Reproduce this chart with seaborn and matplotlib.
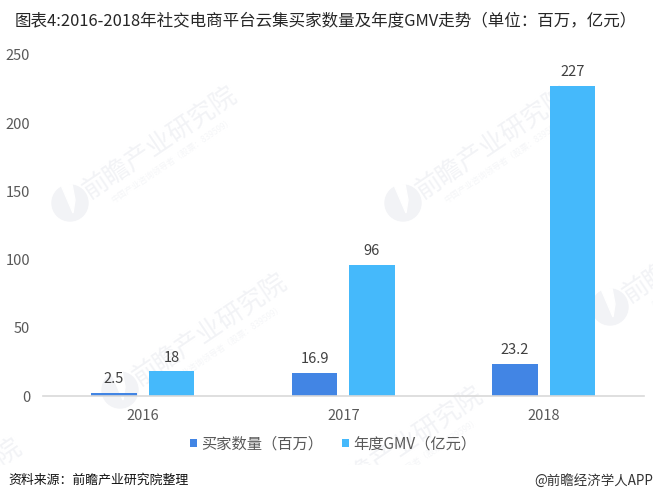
import matplotlib
matplotlib.use("Agg")
import matplotlib.pyplot as plt
from matplotlib.patches import Circle, Polygon, Rectangle
import seaborn as sns
import pandas as pd

sns.set_style("white")
plt.rcParams["font.family"] = ["Noto Sans CJK SC", "DejaVu Sans"]

years = ["2016", "2017", "2018"]
buyers = [2.5, 16.9, 23.2]
gmv = [18, 96, 227]
buyers_name = "买家数量（百万）"
gmv_name = "年度GMV（亿元）"
y_ticks = [0, 50, 100, 150, 200, 250]
title = "图表4:2016-2018年社交电商平台云集买家数量及年度GMV走势（单位：百万，亿元）"
source = "资料来源：前瞻产业研究院整理"
brand = "@前瞻经济学人APP"
watermark = "前瞻产业研究院"
watermark_sub = "中国产业咨询领导者（股票：839599）"

df = pd.DataFrame({"year": years * 2,
                   "value": buyers + gmv,
                   "series": [buyers_name] * 3 + [gmv_name] * 3})

W, H = 653, 501
fig = plt.figure(figsize=(W / 100, H / 100), dpi=100)
ax = fig.add_axes([42.5 / W, 1 - 396 / H, 601.5 / W, 341 / H])
ax.set_zorder(2)
ax.patch.set_alpha(0)

# watermark: logo + two lines of text, repeated behind the chart
wm_color = "#f2f3f6"
px = fig.dpi_scale_trans
for x, y in [(160, 143), (493, 143), (210, 330), (406, 443), (700, 247), (-55, 495)]:
    fig.text(x / W, 1 - y / H, watermark, rotation=34, fontsize=18.5, color=wm_color,
             ha="center", va="center", rotation_mode="anchor", zorder=0)
    fig.text((x + 12) / W, 1 - (y + 17) / H, watermark_sub, rotation=34, fontsize=6, color="#f5f6f8",
             ha="center", va="center", rotation_mode="anchor", zorder=0)
    cx, cy = (x - 90) / 100, (H - y - 60) / 100
    fig.add_artist(Circle((cx, cy), 0.18, transform=px, color=wm_color, zorder=0))
    fig.add_artist(Polygon([(cx - 0.09, cy + 0.18), (cx + 0.03, cy - 0.1), (cx + 0.05, cy + 0.03), (cx + 0.02, cy + 0.19)],
                           transform=px, color="white", zorder=0))

# footer is plain white, the watermark stops above it
fig.add_artist(Rectangle((0, 0), 1, 1 - 465 / H, transform=fig.transFigure, color="white", zorder=1))

sns.barplot(data=df, x="year", y="value", hue="series", ax=ax, width=0.5735, gap=0.217,
            palette=["#4285e4", "#45b9fb"], saturation=1, linewidth=0)

for container, vals in zip(ax.containers, [buyers, gmv]):
    ax.bar_label(container, labels=[str(v) for v in vals], padding=5, fontsize=10.5, color="#404040")

ax.set_xlim(-0.5, 2.5)
ax.set_ylim(0, 250)
ax.set_yticks(y_ticks)
ax.set_xlabel("")
ax.set_ylabel("")
ax.tick_params(axis="both", length=0, labelsize=10.5, labelcolor="#595959")
ax.tick_params(axis="x", pad=9)
ax.tick_params(axis="y", pad=9)
sns.despine(ax=ax, left=True)
ax.spines["bottom"].set_color("#d9d9d9")
ax.spines["bottom"].set_linewidth(1.2)

ax.legend(loc="center", bbox_to_anchor=(0.483, (396 - 444) / 341), ncol=2, frameon=False, fontsize=11,
          handlelength=0.5, handleheight=0.5, handletextpad=0.25, columnspacing=1.2,
          labelcolor="#595959")

fig.text(15 / W, 1 - 21 / H, title, fontsize=11.9, color="#262626", ha="left", va="center", zorder=3)
fig.text(8 / W, 1 - 480 / H, source, fontsize=9.3, color="#111111", style="italic", ha="left", va="center", zorder=3)
fig.text(1, 1 - 481 / H, brand, fontsize=9.7, color="#333333", ha="right", va="center", zorder=3)

fig.savefig("out.png", dpi=100)
